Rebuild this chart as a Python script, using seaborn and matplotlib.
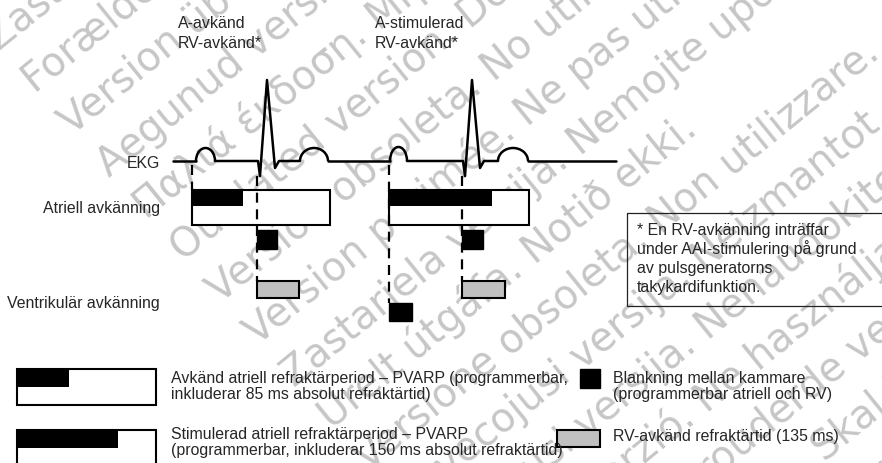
import numpy as np
import pandas as pd
import matplotlib
matplotlib.use("Agg")
import matplotlib.pyplot as plt
from matplotlib.patches import Arc, Rectangle
import seaborn as sns

# ---- data (schematic time axis, px units) ----
atrial_events = [192, 389]          # A-avkänd, A-stimulerad
ventricular_events = [257, 462]     # RV-avkänd
pvarp_end = [330, 529]              # total atrial refractory
abs_refr_end = [243, 492]           # absolute refractory part (85 / 150 ms)
blanking_end = [277, 483]           # cross-chamber blanking
rv_refr_end = [299, 505]            # RV-sensed refractory (135 ms)
v_blank_start = [389]
v_blank_end = [412]

# EKG trace: straight pieces (QRS included), P and T waves as arcs
ekg_segments = [
    ([173, 196], [161, 161]),
    ([215, 258, 260, 267, 275, 279, 300], [161, 161, 176, 80, 168, 161, 161]),
    ([328, 390], [161, 161]),
    ([407, 463, 465, 472, 480, 484, 498], [161, 161, 176, 80, 168, 161, 161]),
    ([528, 616], [161, 161]),
]
wave_start = [196, 300, 390, 498]
wave_end = [215, 328, 407, 528]
wave_height = [13, 13, 14, 13]

top_labels = ["A-avkänd\nRV-avkänd*", "A-stimulerad\nRV-avkänd*"]
row_labels = ["EKG", "Atriell avkänning", "Ventrikulär avkänning"]
note_lines = ["* En RV-avkänning inträffar", "under AAI-stimulering på grund",
              "av pulsgeneratorns", "takykardifunktion."]
legend_texts = [
    "Avkänd atriell refraktärperiod – PVARP (programmerbar,\ninkluderar 85 ms absolut refraktärtid)",
    "Stimulerad atriell refraktärperiod – PVARP\n(programmerbar, inkluderar 150 ms absolut refraktärtid)",
    "Blankning mellan kammare\n(programmerbar atriell och RV)",
    "RV-avkänd refraktärtid (135 ms)",
]

watermark = [
    "Zastaralá verze. Nepoužívat.",
    "Forældet version. Må ikke anvendes.",
    "Version überholt. Nicht verwenden.",
    "Aegunud versioon. Ärge kasutage.",
    "Παλιά έκδοση. Μην την χρησιμοποιείτε.",
    "Outdated version. Do not use.",
    "Versión obsoleta. No utilizar.",
    "Version périmée. Ne pas utiliser.",
    "Zastarjela verzija. Nemojte upotrebljavati.",
    "Úrelt útgáfa. Notið ekki.",
    "Versione obsoleta. Non utilizzare.",
    "Novecojusi versija. Neizmantot.",
    "Pasenusi versija. Nenaudokite.",
    "Elavult verzió. Ne használja!",
    "Dit is een verouderde versie. Niet gebruiken.",
    "Utdatert versjon. Skal ikke brukes.",
    "Wersja przeterminowana. Nie używać.",
    "Versão obsoleta. Não utilize.",
    "Versiune expirată. A nu se utiliza.",
    "Zastaraná verzia. Nepoužívať.",
    "Zastarela različica. Ne uporabite.",
    "Vanhentunut versio. Älä käytä.",
    "Föråldrad version. Använd ej.",
]

sns.set_style("white")
plt.rcParams["font.family"] = ["Liberation Sans", "DejaVu Sans"]

fig = plt.figure(figsize=(8.82, 4.63), dpi=100)
ax = fig.add_axes([0, 0, 1, 1])
ax.set_xlim(0, 882)
ax.set_ylim(463, 0)
ax.axis("off")

FS = 11.4
LW = 1.5

# watermark (behind everything)
for i, line in enumerate(watermark):
    ax.text(-2 + 37 * i, 52 + 42 * i, line, rotation=39, rotation_mode="anchor",
            ha="left", va="baseline", fontsize=28.5, color="#c6c6c6",
            family="DejaVu Sans", zorder=0, clip_on=True)

# EKG
rows = []
for k, (xs, ys) in enumerate(ekg_segments):
    for x, y in zip(xs, ys):
        rows.append({"seg": k, "x": x, "y": y})
ekg = pd.DataFrame(rows)
sns.lineplot(data=ekg, x="x", y="y", units="seg", estimator=None, sort=False,
             color="black", lw=1.8, ax=ax, legend=False, zorder=3)
for x0, x1, h in zip(wave_start, wave_end, wave_height):
    ax.add_patch(Arc(((x0 + x1) / 2, 161), x1 - x0, 2 * h, theta1=180, theta2=360,
                     color="black", lw=1.8, zorder=3))

# atrial sensing: PVARP outline with absolute refractory part
A_TOP, A_H, ABS_H = 190, 35, 16
ax.bar(atrial_events, A_H, width=np.subtract(pvarp_end, atrial_events), bottom=A_TOP,
       align="edge", color="white", edgecolor="black", lw=LW, zorder=2)
ax.bar(atrial_events, ABS_H, width=np.subtract(abs_refr_end, atrial_events), bottom=A_TOP,
       align="edge", color="black", edgecolor="black", lw=0, zorder=2)

# cross-chamber blanking after RV sense
ax.bar(ventricular_events, 19, width=np.subtract(blanking_end, ventricular_events), bottom=230,
       align="edge", color="black", edgecolor="black", lw=1, zorder=2)
# RV refractory
ax.bar(ventricular_events, 17, width=np.subtract(rv_refr_end, ventricular_events), bottom=281,
       align="edge", color="#c0c0c0", edgecolor="black", lw=LW, zorder=2)
# ventricular blanking after atrial pace
ax.bar(v_blank_start, 18, width=np.subtract(v_blank_end, v_blank_start), bottom=303,
       align="edge", color="black", edgecolor="black", lw=1, zorder=2)

# dashed timing markers
dash_x = [atrial_events[0], ventricular_events[0], atrial_events[1], ventricular_events[1]]
dash_from = [165, 176, 165, 176]
dash_to = [190, 281, 303, 281]
for x, y0, y1 in zip(dash_x, dash_from, dash_to):
    ax.plot([x, x], [y0, y1], color="black", lw=1.6, ls=(0, (4.5, 3)), zorder=2)

# labels
for x, lab in zip(atrial_events, top_labels):
    l1, l2 = lab.split("\n")
    ax.text(x - 14, 28, l1, fontsize=FS, ha="left", va="baseline", zorder=4)
    ax.text(x - 14, 48, l2, fontsize=FS, ha="left", va="baseline", zorder=4)
for y, lab in zip([168, 213, 308], row_labels):
    ax.text(160, y, lab, fontsize=FS, ha="right", va="baseline", zorder=4)

# note box
ax.add_patch(Rectangle((627, 213), 260, 93, fill=False, edgecolor="#222222", lw=0.9, zorder=3))
for j, line in enumerate(note_lines):
    ax.text(637, 235 + 19 * j, line, fontsize=FS, ha="left", va="baseline", zorder=4)

# legend
ax.bar([17, 17], [36, 36], width=[139, 139], bottom=[369, 430], align="edge",
       color="white", edgecolor="black", lw=LW, zorder=2)
ax.bar([17, 17], [18, 18], width=[52, 101], bottom=[369, 430], align="edge",
       color="black", lw=0, zorder=2)
ax.bar([580], [19], width=[20], bottom=[369], align="edge", color="black",
       edgecolor="black", lw=1, zorder=2)
ax.bar([557], [17], width=[43], bottom=[430], align="edge", color="#c0c0c0",
       edgecolor="black", lw=LW, zorder=2)
for (x, y), txt in zip([(171, 383), (171, 439), (613, 383), (613, 441)], legend_texts):
    for j, line in enumerate(txt.split("\n")):
        ax.text(x, y + 16 * j, line, fontsize=FS, ha="left", va="baseline", zorder=4)

fig.savefig("out.png", dpi=100)
